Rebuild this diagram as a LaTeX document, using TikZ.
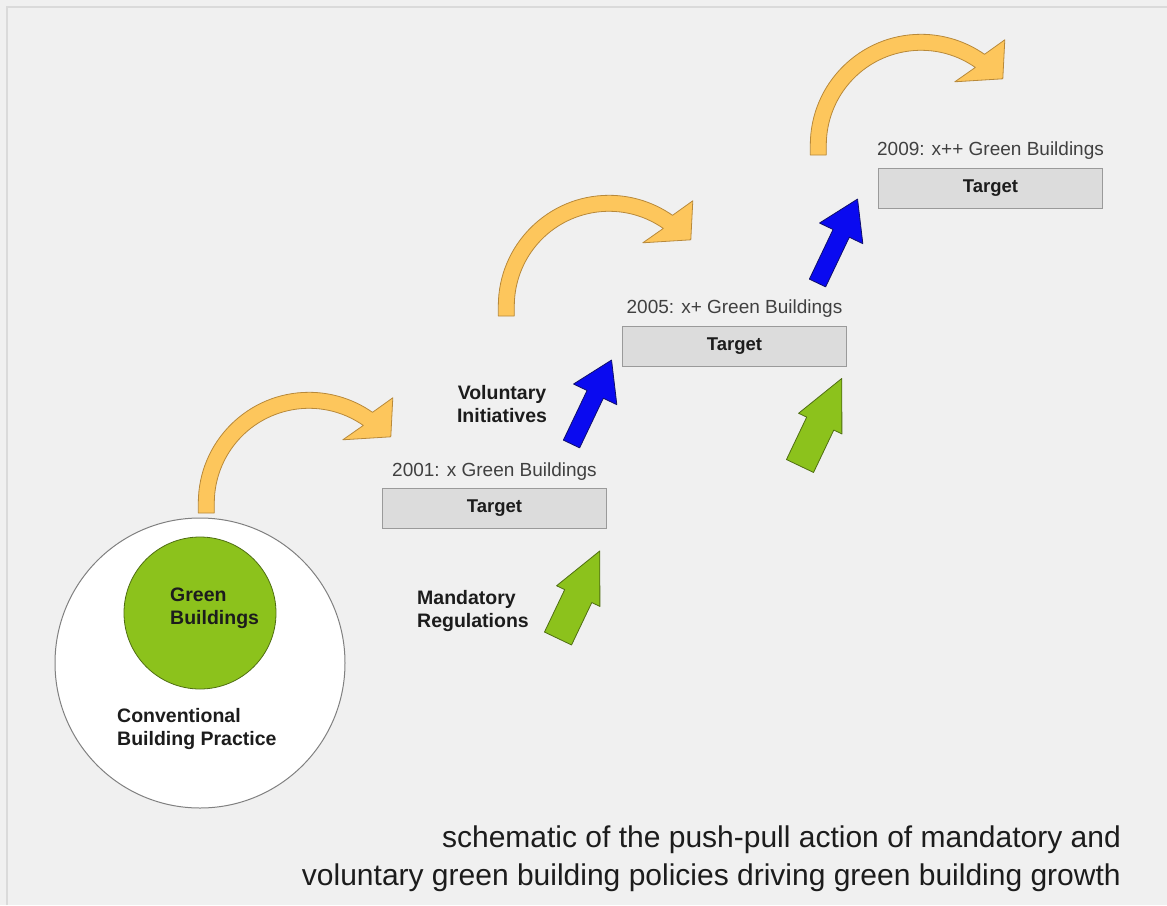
\documentclass[tikz,border=0pt]{standalone}
\usepackage{fontspec}
\setmainfont{Liberation Sans}
\usetikzlibrary{positioning}

\definecolor{bgGray}{HTML}{F0F0F0}
\definecolor{frameGray}{HTML}{DADADA}
\definecolor{boxFill}{HTML}{DCDCDC}
\definecolor{boxEdge}{HTML}{9A9A9A}
\definecolor{arcFill}{HTML}{FDC65C}
\definecolor{arcEdge}{HTML}{B8893A}
\definecolor{pullBlue}{HTML}{0A0AF0}
\definecolor{pullEdge}{HTML}{10106A}
\definecolor{pushGreen}{HTML}{8CC21C}
\definecolor{pushEdge}{HTML}{4F6E12}
\definecolor{textDark}{HTML}{1C1C1C}
\definecolor{textGray}{HTML}{404040}

\begin{document}
\begin{tikzpicture}[x=1pt, y=1pt]

% Styles for boxes, texts and arrows
\tikzset{
  targetbox/.style={draw=boxEdge, fill=boxFill, line width=1pt,
    minimum width=224pt, minimum height=40pt, inner sep=0pt,
    font=\bfseries\fontsize{18.5}{20}\selectfont, text=textDark},
  yeartext/.style={font=\fontsize{19}{21}\selectfont, text=textGray, inner sep=0pt},
  boldtext/.style={font=\bfseries\fontsize{19.5}{23}\selectfont, text=textDark,
    inner sep=0pt, align=left},
  curvearrow/.style={fill=arcFill, draw=arcEdge, line width=0.8pt, line join=round},
  pullarrow/.style={fill=pullBlue, draw=pullEdge, line width=0.8pt, line join=round},
  pusharrow/.style={fill=pushGreen, draw=pushEdge, line width=0.8pt, line join=round}
}

% Curved arrow, placed by the centre of its arc
\def\curvedarrow#1{%
  \begin{scope}[shift={#1}]
    \draw[curvearrow] (-110.7,-10) -- (-110.7,0)
      arc[start angle=180, end angle=55, radius=110.7]
      -- (83.8,105.2) -- (81.8,66.2) -- (33.8,63.2) -- (55:94.7)
      arc[start angle=55, end angle=180, radius=94.7]
      -- (-94.7,-10) -- cycle;
  \end{scope}}

% Block arrow: style, tail, length, shaft width, head width, head length
\def\blockarrow#1#2#3#4#5#6{%
  \begin{scope}[shift={#2}, rotate=64.5]
    \draw[#1] (0,{-#4/2}) -- ({#3-#6},{-#4/2}) -- ({#3-#6},{-#5/2}) -- (#3,0)
      -- ({#3-#6},{#5/2}) -- ({#3-#6},{#4/2}) -- (0,{#4/2}) -- cycle;
  \end{scope}}

% Background and frame
\useasboundingbox (0,0) rectangle (1167,-905);
\fill[bgGray] (0,0) rectangle (1167,-905);
\draw[frameGray, line width=2pt] (7,-905) -- (7,-7) -- (1167,-7);

% Curved arrows between the steps
\curvedarrow{(309,-503)}
\curvedarrow{(609,-306)}
\curvedarrow{(921,-145)}

% Conventional practice with green buildings inside
\node[circle, draw=gray, fill=white, line width=1pt, minimum size=290pt] (practice) at (200,-663) {};
\node[circle, draw=pushEdge, fill=pushGreen, line width=0.8pt, minimum size=152pt] (greencore) at (200,-613) {};
\node[boldtext, anchor=west] (greenlabel) at (170,-608) {Green\\Buildings};
\node[boldtext, anchor=west] (practicelabel) at (117,-729) {Conventional\\Building Practice};

% Targets
\node[targetbox] (target1) at (494.5,-508.5) {Target};
\node[targetbox] (target2) at (734.5,-346.5) {Target};
\node[targetbox] (target3) at (990.5,-188) {Target};
\node[yeartext, above=7pt of target1] (year1) {2001: x Green Buildings};
\node[yeartext, above=8pt of target2] (year2) {2005: x+ Green Buildings};
\node[yeartext, above=8pt of target3] (year3) {2009: x++ Green Buildings};

% Pull (voluntary) and push (mandatory) arrows
\blockarrow{pullarrow}{(571.5,-444)}{93}{18}{48}{38}
\blockarrow{pullarrow}{(817.5,-283)}{93}{18}{48}{38}
\blockarrow{pusharrow}{(558,-638.5)}{97}{30}{48}{50}
\blockarrow{pusharrow}{(800,-466)}{97}{30}{48}{50}

\node[boldtext, align=center] (voluntary) at (502,-404) {Voluntary\\Initiatives};
\node[boldtext, anchor=west] (mandatory) at (417,-611) {Mandatory\\Regulations};

% Caption
\node[anchor=east, align=right, inner sep=0pt, text=textDark,
  font=\fontsize{30}{38}\selectfont] (caption) at (1121,-859)
  {schematic of the push-pull action of mandatory and\\
   voluntary green building policies driving green building growth};

\end{tikzpicture}
\end{document}
